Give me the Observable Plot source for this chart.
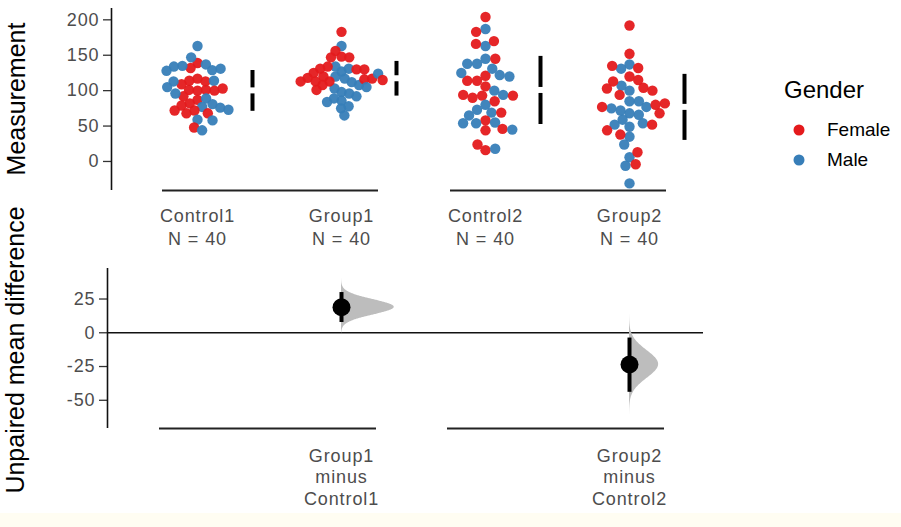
<!DOCTYPE html>
<html>
<head>
<meta charset="utf-8">
<script src="https://cdn.jsdelivr.net/npm/d3@7"></script>
<script src="https://cdn.jsdelivr.net/npm/@observablehq/plot@0.6"></script>
<style>
html, body { margin: 0; padding: 0; background: #fffdf2; }
#chart { position: relative; width: 901px; height: 513px; background: #ffffff; overflow: hidden;
  font-family: "Liberation Sans", Arial, sans-serif; }
#top, #bottom { position: absolute; left: 0; }
#top { top: 0; }
#bottom { top: 250px; }
#chart svg { overflow: visible; }
#chart svg text { letter-spacing: 0.9px; }
.ytitle { position: absolute; white-space: nowrap; font-size: 25px; color: #000;
  transform: translate(-50%, -50%) rotate(-90deg); line-height: 1; }
.legend-title { position: absolute; left: 784px; top: 76px; font-size: 24px; color: #000; }
.legend-item { position: absolute; left: 792px; height: 20px; display: flex; align-items: center; font-size: 19px; color: #000; }
.legend-item svg { margin-right: 21px; overflow: visible; }
</style>
</head>
<body>
<div id="chart">
  <div id="top"></div>
  <div id="bottom"></div>
  <div class="ytitle" style="left:16px; top:99px;">Measurement</div>
  <div class="ytitle" style="left:15px; top:350px;">Unpaired mean difference</div>
  <div id="legend"></div>
</div>
<script>
// ---- data ----
const groups = ["Control1", "Group1", "Control2", "Group2"];
const genders = ["Female", "Male"];
const genderColors = ["#E41A1C", "#377EB8"];

const control1Female = [139,132,117,114,113,109,100,101,101,100,103,92,87,82,79,72,72,68,68,48];
const control1Male   = [163,147,137,129,135,131,134,128,114,113,105,96,89,81,77,76,73,59,58,44];
const group1Female   = [183,156,148,147,147,134,130,131,130,113,120,116,125,117,118,108,113,115,101,113];
const group1Male     = [163,127,134,131,120,117,112,98,103,108,96,86,89,75,78,65,124,105,92,84];
const control2Female = [204,183,166,170,145,121,114,114,106,93,90,94,93,85,69,58,44,46,16,24];
const control2Male   = [187,163,145,138,138,131,122,120,125,100,94,80,73,69,65,54,55,54,45,18];
const group2Female   = [192,152,132,135,120,115,104,113,103,100,94,80,77,82,68,52,38,44,13,-4];
const group2Male     = [137,131,100,107,85,68,72,85,77,75,66,59,49,54,52,35,24,6,-6,-31];

const measurementTicks = [0, 50, 100, 150, 200];
const differenceTicks = [-50, -25, 0, 25];

const effectTests    = ["Group1", "Group2"];
const effectControls = ["Control1", "Control2"];
const effectDiff     = [18.9, -23.5];
const effectLow      = [7.6, -44.1];
const effectHigh     = [29.8, -3.9];

// swarm packing (style): how tightly each group's dots may overlap
const dodgePadding = {Control1: -1.9, Group1: -2.6, Control2: -0.6, Group2: -1.0};

// ---- tables ----
const byGroup = {
  Control1: [control1Female, control1Male],
  Group1: [group1Female, group1Male],
  Control2: [control2Female, control2Male],
  Group2: [group2Female, group2Male]
};
const rows = [];
for (const g of groups) {
  const [f, m] = byGroup[g];
  for (let i = 0; i < Math.max(f.length, m.length); i++) {
    if (i < f.length) rows.push({group: g, gender: "Female", value: f[i]});
    if (i < m.length) rows.push({group: g, gender: "Male", value: m[i]});
  }
}
const stats = groups.map(g => {
  const v = rows.filter(r => r.group === g).map(r => r.value);
  return {group: g, n: v.length, mean: d3.mean(v), sd: d3.deviation(v)};
});
const nOf = Object.fromEntries(stats.map(s => [s.group, s.n]));

const effects = effectTests.map((g, i) => ({group: g, control: effectControls[i], diff: effectDiff[i], lo: effectLow[i], hi: effectHigh[i]}));
const densityRows = effects.flatMap(e => {
  const sd = (e.hi - e.lo) / (2 * 1.96);
  return d3.range(-4.6, 4.6001, 0.05).map(z => ({group: e.group, value: e.diff + z * sd,
    density: Math.exp(-z * z / 2) / (sd * Math.sqrt(2 * Math.PI))}));
});

const font = {fontFamily: "'Liberation Sans', Arial, sans-serif", fontSize: "18px", color: "#4d4d4d", background: "transparent", overflow: "visible"};
const yTopDomain = [-41, 216];
const yBotDomain = [-70.9, 47.6];
const plain = d => String(d);

const swarmMarks = groups.map(g =>
  Plot.dot(rows.filter(r => r.group === g),
    Plot.dodgeX({anchor: "middle", padding: dodgePadding[g]},
      {fx: "group", y: "value", fill: "gender", r: 5.2, fillOpacity: 0.95})));

// ---- top: swarm plot ----
const topPlot = Plot.plot({
  width: 720, height: 250,
  marginLeft: 125, marginRight: 19, marginTop: 8, marginBottom: 60,
  style: font,
  fx: {domain: groups, padding: 0, label: null},
  x: {domain: [0, 1], axis: null},
  y: {domain: yTopDomain},
  color: {domain: genders, range: genderColors},
  marks: [
    Plot.axisY({ticks: measurementTicks, tickFormat: plain, tickSize: 8, tickPadding: 4, dx: -14, label: null, stroke: "#333", strokeWidth: 1.3}),
    Plot.ruleX(["Control1"], {fx: d => d, x: 0, y1: yTopDomain[0], y2: yTopDomain[1], dx: -14, stroke: "#111", strokeWidth: 1.6}),
    Plot.ruleY(["Control1", "Control2"], {fx: d => d, y: yTopDomain[0], insetLeft: 37, stroke: "#222", strokeWidth: 1.8}),
    Plot.ruleY(["Group1", "Group2"], {fx: d => d, y: yTopDomain[0], insetRight: 35, stroke: "#222", strokeWidth: 1.8}),
    ...swarmMarks,
    Plot.ruleX(stats, {fx: "group", x: 0.5, dx: 55, y1: d => d.mean + d.sd, y2: "mean", insetBottom: 3, stroke: "black", strokeWidth: 4}),
    Plot.ruleX(stats, {fx: "group", x: 0.5, dx: 55, y1: "mean", y2: d => d.mean - d.sd, insetTop: 3, stroke: "black", strokeWidth: 4}),
    Plot.axisFx({anchor: "bottom", tickSize: 0, tickPadding: 15, label: null, lineHeight: 1.27,
      tickFormat: g => `${g}\nN = ${nOf[g]}`, fill: "#4d4d4d"})
  ]
});
document.getElementById("top").append(topPlot);

// ---- bottom: effect sizes ----
const bottomPlot = Plot.plot({
  width: 720, height: 263,
  marginLeft: 125, marginRight: 19, marginTop: 18, marginBottom: 85,
  style: font,
  fx: {domain: groups, padding: 0, label: null},
  x: {domain: [0, 1], axis: null},
  y: {domain: yBotDomain},
  marks: [
    Plot.axisY({ticks: differenceTicks, tickFormat: plain, tickSize: 8, tickPadding: 4, dx: -18, label: null, stroke: "#333", strokeWidth: 1.3}),
    Plot.ruleX(["Control1"], {fx: d => d, x: 0, y1: yBotDomain[0], y2: yBotDomain[1], dx: -18, stroke: "#111", strokeWidth: 1.6}),
    Plot.ruleY(["Control1"], {fx: d => d, y: 0, insetLeft: -18, stroke: "#111", strokeWidth: 1.6}),
    Plot.ruleY(["Group1", "Control2"], {fx: d => d, y: 0, stroke: "#111", strokeWidth: 1.6}),
    Plot.ruleY(["Group2"], {fx: d => d, y: 0, insetRight: -2, stroke: "#111", strokeWidth: 1.6}),
    Plot.ruleY(["Control1", "Control2"], {fx: d => d, y: yBotDomain[0], insetLeft: 34, stroke: "#222", strokeWidth: 1.8}),
    Plot.ruleY(["Group1", "Group2"], {fx: d => d, y: yBotDomain[0], insetRight: 37, stroke: "#222", strokeWidth: 1.8}),
    Plot.areaX(densityRows, {fx: "group", y: "value", x1: 0.5, x2: d => 0.5 + d.density * 5.2, fill: "#bdbdbd", curve: "basis"}),
    Plot.ruleX(effects, {fx: "group", x: 0.5, y1: "lo", y2: "hi", stroke: "black", strokeWidth: 4}),
    Plot.dot(effects, {fx: "group", x: 0.5, y: "diff", r: 9, fill: "black"}),
    Plot.axisFx({anchor: "bottom", tickSize: 0, tickPadding: 18, label: null, lineHeight: 1.2,
      tickFormat: g => { const e = effects.find(d => d.group === g); return e ? `${e.group}\nminus\n${e.control}` : ""; },
      fill: "#4d4d4d"})
  ]
});
document.getElementById("bottom").append(bottomPlot);

// ---- legend ----
const legend = document.getElementById("legend");
const title = document.createElement("div");
title.className = "legend-title";
title.textContent = "Gender";
legend.append(title);
genders.forEach((g, i) => {
  const item = document.createElement("div");
  item.className = "legend-item";
  item.style.top = (120 + i * 30) + "px";
  item.innerHTML = `<svg width="14" height="14"><circle cx="7" cy="7" r="5.5" fill="${genderColors[i]}"></circle></svg><span>${g}</span>`;
  legend.append(item);
});
</script>
</body>
</html>
